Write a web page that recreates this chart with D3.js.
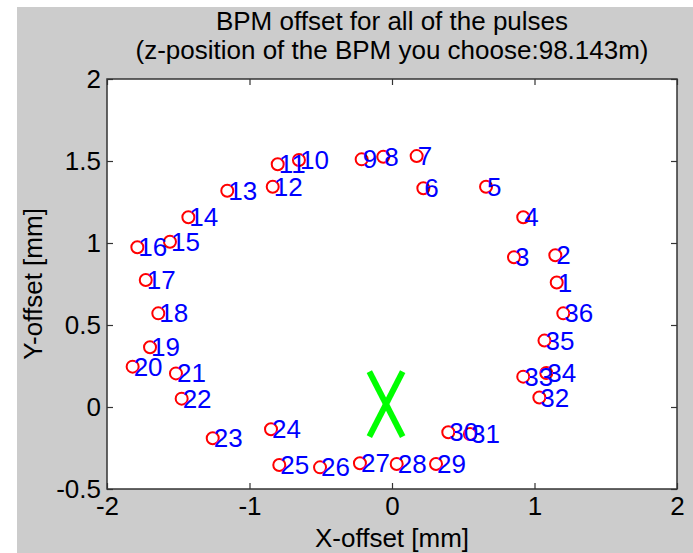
<!DOCTYPE html>
<html>
<head>
<meta charset="utf-8">
<script src="https://cdn.jsdelivr.net/npm/d3@7"></script>
<style>
  html, body { margin: 0; padding: 0; background: #ffffff; }
  svg { display: block; }
  text { font-family: "Liberation Sans", Arial, Helvetica, sans-serif; }
</style>
</head>
<body>
<svg id="chart" width="693" height="553"></svg>
<script>
// pulse numbers and their BPM offsets [mm]
const pulseIds = [1, 2, 3, 4, 5, 6, 7, 8, 9, 10, 11, 12, 13, 14, 15, 16, 17, 18,
  19, 20, 21, 22, 23, 24, 25, 26, 27, 28, 29, 30, 31, 32, 33, 34, 35, 36];
const xOffset = [1.156, 1.146, 0.856, 0.921, 0.660, 0.220, 0.173, -0.061, -0.213,
  -0.653, -0.802, -0.837, -1.156, -1.429, -1.558, -1.787, -1.728, -1.640,
  -1.698, -1.820, -1.516, -1.476, -1.258, -0.849, -0.791, -0.505, -0.225,
  0.033, 0.309, 0.395, 0.547, 1.034, 0.921, 1.083, 1.070, 1.202];
const yOffset = [0.759, 0.925, 0.913, 1.157, 1.343, 1.334, 1.530, 1.526, 1.510,
  1.506, 1.480, 1.343, 1.319, 1.157, 1.008, 0.974, 0.774, 0.571,
  0.364, 0.246, 0.205, 0.051, -0.191, -0.136, -0.354, -0.368, -0.343,
  -0.348, -0.348, -0.154, -0.165, 0.058, 0.185, 0.207, 0.405, 0.571];

// green "X" mark (two strokes), corner coordinates in mm
const crossX = [-0.159, 0.075];
const crossY = [-0.181, 0.215];

const xTicks = [-2, -1, 0, 1, 2];
const yTicks = [-0.5, 0, 0.5, 1, 1.5, 2];
const titleLines = ["BPM offset for all of the pulses",
  "(z-position of the BPM you choose:98.143m)"];

const svg = d3.select("#chart");
const plotL = 107, plotR = 677, plotT = 79, plotB = 489;

// figure background
svg.append("rect")
  .attr("x", 17).attr("y", 7)
  .attr("width", 693 - 17).attr("height", 553 - 7)
  .attr("fill", "#cccccc");

svg.append("rect")
  .attr("x", plotL).attr("y", plotT)
  .attr("width", plotR - plotL).attr("height", plotB - plotT)
  .attr("fill", "#ffffff");

const x = d3.scaleLinear().domain([-2, 2]).range([plotL, plotR]);
const y = d3.scaleLinear().domain([-0.5, 2]).range([plotB, plotT]);

const fmt = d => String(d);

function styleAxis(g) {
  g.select(".domain").remove();
  g.selectAll(".tick line").attr("stroke", "#333333").attr("stroke-width", 1.2);
  g.selectAll(".tick text")
    .attr("fill", "#000000")
    .style("font-size", "26px")
    .style("font-family", '"Liberation Sans", Arial, Helvetica, sans-serif');
}

svg.append("g")
  .attr("transform", `translate(0,${plotB})`)
  .call(d3.axisBottom(x).tickValues(xTicks).tickFormat(fmt)
    .tickSizeInner(-6).tickSizeOuter(0).tickPadding(8))
  .call(styleAxis);

svg.append("g")
  .attr("transform", `translate(0,${plotT})`)
  .call(d3.axisTop(x).tickValues(xTicks).tickFormat("")
    .tickSizeInner(-6).tickSizeOuter(0))
  .call(styleAxis);

svg.append("g")
  .attr("transform", `translate(${plotL},0)`)
  .call(d3.axisLeft(y).tickValues(yTicks).tickFormat(fmt)
    .tickSizeInner(-6).tickSizeOuter(0).tickPadding(6))
  .call(styleAxis);

svg.append("g")
  .attr("transform", `translate(${plotR},0)`)
  .call(d3.axisRight(y).tickValues(yTicks).tickFormat("")
    .tickSizeInner(-6).tickSizeOuter(0))
  .call(styleAxis);

// axes box
svg.append("rect")
  .attr("x", plotL).attr("y", plotT)
  .attr("width", plotR - plotL).attr("height", plotB - plotT)
  .attr("fill", "none")
  .attr("stroke", "#333333")
  .attr("stroke-width", 1.5);

// green X
const cross = svg.append("g")
  .attr("stroke", "#00ff00")
  .attr("stroke-width", 6);
cross.append("line")
  .attr("x1", x(crossX[0])).attr("y1", y(crossY[1]))
  .attr("x2", x(crossX[1])).attr("y2", y(crossY[0]));
cross.append("line")
  .attr("x1", x(crossX[1])).attr("y1", y(crossY[1]))
  .attr("x2", x(crossX[0])).attr("y2", y(crossY[0]));

const points = pulseIds.map((id, i) => ({ id, x: xOffset[i], y: yOffset[i] }));

// markers
svg.append("g")
  .selectAll("circle")
  .data(points)
  .join("circle")
  .attr("cx", d => x(d.x))
  .attr("cy", d => y(d.y))
  .attr("r", 6)
  .attr("fill", "none")
  .attr("stroke", "#ff0000")
  .attr("stroke-width", 2);

// pulse numbers, drawn from the marker centre like matlab text()
svg.append("g")
  .selectAll("text")
  .data(points)
  .join("text")
  .attr("x", d => x(d.x) + 1)
  .attr("y", d => y(d.y))
  .attr("dy", "0.35em")
  .attr("fill", "#0000ff")
  .style("font-size", "26px")
  .text(d => d.id);

// title
svg.append("g")
  .selectAll("text")
  .data(titleLines)
  .join("text")
  .attr("x", (plotL + plotR) / 2)
  .attr("y", (d, i) => 30 + i * 29)
  .attr("text-anchor", "middle")
  .style("font-size", "26px")
  .text(d => d);

svg.append("text")
  .attr("x", (plotL + plotR) / 2)
  .attr("y", 547)
  .attr("text-anchor", "middle")
  .style("font-size", "26px")
  .text("X-offset [mm]");

svg.append("text")
  .attr("transform", `translate(42,${(plotT + plotB) / 2}) rotate(-90)`)
  .attr("text-anchor", "middle")
  .style("font-size", "26px")
  .text("Y-offset [mm]");
</script>
</body>
</html>
